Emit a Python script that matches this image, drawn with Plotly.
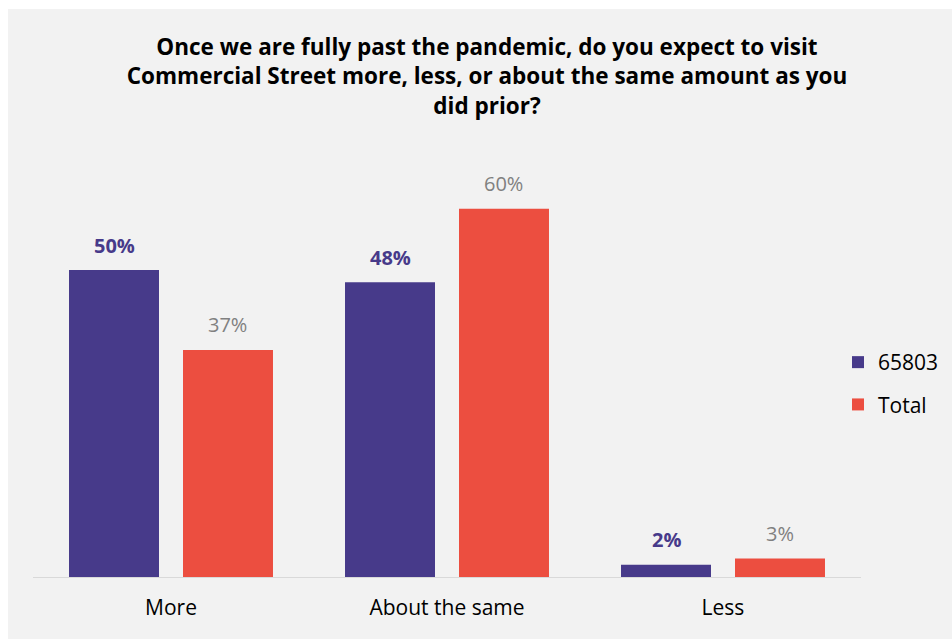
import plotly.graph_objects as go

# Survey responses: expected visit frequency once past the pandemic
categories = ["More", "About the same", "Less"]
zip_65803 = [50, 48, 2]
total = [37, 60, 3]
series_names = ["65803", "Total"]

PURPLE = "#473A8A"
RED = "#EC4E40"
FONT = "Open Sans"

fig = go.Figure()
fig.add_trace(go.Bar(x=categories, y=zip_65803, name=series_names[0],
                     marker=dict(color=PURPLE, line=dict(width=0)),
                     legendgroup="a"))
fig.add_trace(go.Bar(x=categories, y=total, name=series_names[1],
                     marker=dict(color=RED, line=dict(width=0)),
                     legendgroup="b"))

# Value labels above each bar
offset = 0.2065
annotations = []
for i, v in enumerate(zip_65803):
    annotations.append(dict(x=i - offset, y=v, xref="x", yref="y", text=f"{v}%",
                            showarrow=False, yanchor="middle", yshift=25,
                            font=dict(family=FONT, size=20, color=PURPLE, weight="bold")))
for i, v in enumerate(total):
    annotations.append(dict(x=i + offset, y=v, xref="x", yref="y", text=f"{v}%",
                            showarrow=False, yanchor="middle", yshift=25,
                            font=dict(family=FONT, size=20, color="#808080")))

L, R, T, B = 33, 91, 178, 62
W, H = 952, 639
pw, ph = W - L - R, H - T - B

# light gray chart panel
shapes = [dict(type="rect", xref="paper", yref="paper", layer="below",
               x0=(8 - L) / pw, x1=(W + 20 - L) / pw,
               y0=-(B + 20) / ph, y1=(ph + T - 9) / ph,
               fillcolor="#F2F2F2", line=dict(width=0))]

fig.update_layout(
    width=W, height=H,
    margin=dict(l=L, r=R, t=T, b=B, autoexpand=False),
    paper_bgcolor="white", plot_bgcolor="rgba(0,0,0,0)",
    barmode="group", bargap=0.174, bargroupgap=0.2105,
    title=dict(text="Once we are fully past the pandemic, do you expect to visit<br>"
                    "Commercial Street more, less, or about the same amount as you<br>did prior?",
               x=487 / W, xanchor="center", xref="container",
               y=1 - 55 / H, yanchor="top", yref="container",
               font=dict(family=FONT, size=22.5, color="black", weight="bold")),
    font=dict(family=FONT, color="black"),
    xaxis=dict(showline=True, linecolor="#D9D9D9", linewidth=1, showgrid=False,
               ticks="outside", ticklen=12, tickcolor="rgba(0,0,0,0)",
               tickfont=dict(family=FONT, size=21, color="black"), zeroline=False),
    yaxis=dict(range=[0, 65], visible=False, showgrid=False, zeroline=False),
    legend=dict(x=(838 - L) / pw, y=0.485, xanchor="left", yanchor="middle",
                font=dict(family=FONT, size=21, color="black"),
                bgcolor="rgba(0,0,0,0)", traceorder="grouped", tracegroupgap=12),
    annotations=annotations,
    shapes=shapes,
)

fig.write_html("out.html")
